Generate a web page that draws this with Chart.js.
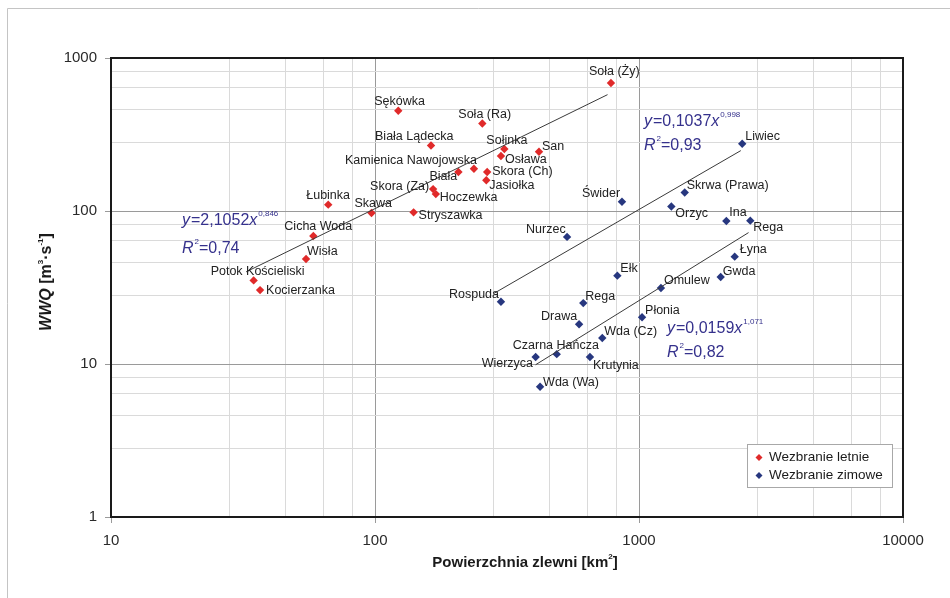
<!DOCTYPE html>
<html>
<head>
<meta charset="utf-8">
<script src="https://cdn.jsdelivr.net/npm/chart.js@4/dist/chart.umd.min.js"></script>
<style>
  html, body { margin: 0; padding: 0; background: #ffffff; }
  #wrap { width: 950px; height: 598px; }
</style>
</head>
<body>
<div id="wrap"><canvas id="c" width="950" height="598"></canvas></div>
<script>
// Summer floods: catchment area [km²] and WWQ [m³/s]
const summerNames = ['Sękówka', 'Soła (Ra)', 'Biała Lądecka', 'Sołinka', 'San', 'Osława',
  'Kamienica Nawojowska', 'Biała', 'Skora (Ch)', 'Jasiołka', 'Skora (Za)', 'Hoczewka',
  'Łubinka', 'Skawa', 'Stryszawka', 'Cicha Woda', 'Wisła', 'Potok Kościeliski',
  'Kocierzanka', 'Soła (Ży)'];
const summerArea = [122.5, 255, 163, 309, 418, 300, 237, 207, 266, 264, 166, 170,
  66.5, 97, 140, 58.4, 54.8, 34.7, 36.7, 783];
const summerWWQ = [452, 373, 268, 254, 244, 229, 189, 180, 180, 159, 139, 129,
  110, 97, 98, 68.7, 48.6, 35.2, 30.4, 686];

// Winter floods
const winterNames = ['Liwiec', 'Skrwa (Prawa)', 'Świder', 'Orzyc', 'Ina', 'Rega', 'Nurzec',
  'Łyna', 'Gwda', 'Ełk', 'Omulew', 'Rospuda', 'Rega', 'Płonia', 'Drawa', 'Wda (Cz)',
  'Wierzyca', 'Czarna Hańcza', 'Krutynia', 'Wda (Wa)'];
const winterArea = [2460, 1490, 862, 1326, 2142, 2640, 534, 2304, 2039, 828, 1211, 300,
  615, 1027, 593, 726, 406, 488, 652, 422];
const winterWWQ = [275, 132, 115, 107, 86, 86.5, 67.7, 50.3, 37, 37.8, 31.4, 25.5,
  25, 20.2, 18.2, 14.8, 11.1, 11.6, 11.1, 7.1];

// Power-law trend lines y = a·x^b with their area span and R²
const trendA = [2.1052, 0.1037, 0.0159];
const trendB = [0.846, 0.998, 1.071];
const trendR2 = ['0,74', '0,93', '0,82'];
const trendFrom = [32.5, 280, 406];
const trendTo = [760, 2430, 2600];

// Axis ticks
const xTickLabels = [10, 100, 1000, 10000];
const yTickLabels = [1, 10, 100, 1000];
const xMinorTicks = [28, 46, 64, 82, 280, 460, 640, 820, 2800, 4600, 6400, 8200];
const yMinorTicks = [2.8, 4.6, 6.4, 8.2, 28, 46, 64, 82, 280, 460, 640, 820];

// Text layout (label offsets from each marker, equation anchors)
const summerLabelOffsets = [[-24,-9],[-24,-9],[-56,-9],[-18,-9],[3,-5],[4,4],[-129,-8],[-29,5],
  [5,0],[3,5],[-63,-3],[4,3],[-22,-9],[-17,-9],[5,3],[-29,-9],[1,-7],[-43,-9],[6,0],[-22,-11]];
const winterLabelOffsets = [[3,-7],[2,-7],[-40,-8],[4,7],[3,-8],[3,7],[-41,-7],[5,-7],[2,-6],
  [3,-7],[3,-7],[-52,-7],[2,-7],[3,-7],[-38,-8],[2,-6],[-54,6],[-44,-9],[3,8],[3,-4]];
const equationAnchors = [[182, 221, 249], [644, 122, 146], [667, 329, 353]];

const RED = '#e02a2a';
const BLUE = '#27377f';
const EQ_COLOR = '#35318c';
const FONT = '"Liberation Sans", Arial, sans-serif';

function pts(xs, ys) { return xs.map((x, i) => ({ x: x, y: ys[i] })); }
function trendPoints(i) {
  return [trendFrom[i], trendTo[i]].map(x => ({ x: x, y: trendA[i] * Math.pow(x, trendB[i]) }));
}
const fmt = v => v.toFixed(3).replace('.', ',');

const majorX = new Set(xTickLabels), majorY = new Set(yTickLabels);

function drawRich(ctx, x, y, parts) {
  let cx = x;
  parts.forEach(p => {
    const size = p.sup ? 8 : 16;
    ctx.font = (p.italic ? 'italic ' : '') + size + 'px ' + FONT;
    ctx.textBaseline = 'middle';
    ctx.textAlign = 'left';
    ctx.fillText(p.t, cx, p.sup ? y - 7 : y);
    cx += ctx.measureText(p.t).width + (p.italic ? 1 : 0);
  });
}

const decorPlugin = {
  id: 'decor',
  beforeDraw(chart) {
    const ctx = chart.ctx;
    ctx.save();
    ctx.fillStyle = '#ffffff';
    ctx.fillRect(0, 0, chart.width, chart.height);
    ctx.strokeStyle = '#c4c4c4';
    ctx.lineWidth = 1;
    ctx.beginPath();
    ctx.moveTo(7.5, 598); ctx.lineTo(7.5, 8.5); ctx.lineTo(950, 8.5);
    ctx.stroke();
    ctx.restore();
  },
  afterDatasetsDraw(chart) {
    const ctx = chart.ctx;
    const xs = chart.scales.x, ys = chart.scales.y;
    const a = chart.chartArea;
    ctx.save();
    // Point labels
    ctx.fillStyle = '#222222';
    ctx.font = '12.5px ' + FONT;
    ctx.textAlign = 'left';
    ctx.textBaseline = 'middle';
    summerNames.forEach((n, i) => {
      const px = xs.getPixelForValue(summerArea[i]), py = ys.getPixelForValue(summerWWQ[i]);
      ctx.fillText(n, px + summerLabelOffsets[i][0], py + summerLabelOffsets[i][1]);
    });
    winterNames.forEach((n, i) => {
      const px = xs.getPixelForValue(winterArea[i]), py = ys.getPixelForValue(winterWWQ[i]);
      ctx.fillText(n, px + winterLabelOffsets[i][0], py + winterLabelOffsets[i][1]);
    });

    // Trend equations
    ctx.fillStyle = EQ_COLOR;
    equationAnchors.forEach((an, i) => {
      drawRich(ctx, an[0], an[1], [
        { t: 'y', italic: true }, { t: '=' + trendA[i].toFixed(4).replace('.', ',') },
        { t: 'x', italic: true }, { t: fmt(trendB[i]), sup: true }]);
      drawRich(ctx, an[0], an[2], [
        { t: 'R', italic: true }, { t: '2', sup: true }, { t: '=' + trendR2[i] }]);
    });

    // Plot frame
    ctx.strokeStyle = '#1a1a1a';
    ctx.lineWidth = 2;
    ctx.strokeRect(a.left, a.top, a.right - a.left, a.bottom - a.top);

    // Legend
    const lx = 747.5, ly = 444.5, lw = 145, lh = 43;
    ctx.fillStyle = '#ffffff';
    ctx.fillRect(lx, ly, lw, lh);
    ctx.strokeStyle = '#a8a8a8';
    ctx.lineWidth = 1;
    ctx.strokeRect(lx, ly, lw, lh);
    [[RED, 'Wezbranie letnie', 457.5], [BLUE, 'Wezbranie zimowe', 475.5]].forEach(item => {
      ctx.fillStyle = item[0];
      ctx.beginPath();
      ctx.moveTo(759, item[2] - 3.5); ctx.lineTo(762.5, item[2]);
      ctx.lineTo(759, item[2] + 3.5); ctx.lineTo(755.5, item[2]);
      ctx.closePath(); ctx.fill();
      ctx.fillStyle = '#1a1a1a';
      ctx.font = '13.5px ' + FONT;
      ctx.textBaseline = 'middle';
      ctx.fillText(item[1], 769, item[2]);
    });

    // Axis titles
    ctx.fillStyle = '#1a1a1a';
    ctx.textBaseline = 'middle';
    ctx.font = 'bold 15px ' + FONT;
    const t1 = 'Powierzchnia zlewni [km', t2 = ']';
    ctx.font = 'bold 15px ' + FONT;
    const w1 = ctx.measureText(t1).width;
    ctx.font = 'bold 8px ' + FONT;
    const wsup = ctx.measureText('2').width;
    ctx.font = 'bold 15px ' + FONT;
    const w2 = ctx.measureText(t2).width;
    let sx = 525 - (w1 + wsup + w2) / 2;
    ctx.textAlign = 'left';
    ctx.fillText(t1, sx, 563);
    ctx.font = 'bold 8px ' + FONT;
    ctx.fillText('2', sx + w1, 557);
    ctx.font = 'bold 15px ' + FONT;
    ctx.fillText(t2, sx + w1 + wsup, 563);

    ctx.translate(47, 282);
    ctx.rotate(-Math.PI / 2);
    const segs = [
      ['italic bold 16px ', 'WWQ', 0], ['bold 16px ', ' [m', 0], ['bold 8px ', '3', -6],
      ['bold 16px ', '·s', 0], ['bold 8px ', '-1', -6], ['bold 16px ', ']', 0]];
    let tw = 0;
    segs.forEach(s => { ctx.font = s[0] + FONT; tw += ctx.measureText(s[1]).width; });
    let cx = -tw / 2;
    segs.forEach(s => {
      ctx.font = s[0] + FONT;
      ctx.fillText(s[1], cx, s[2]);
      cx += ctx.measureText(s[1]).width;
    });
    ctx.restore();
  }
};

const lineStyle = { showLine: true, pointRadius: 0, borderColor: '#3a3a3a', borderWidth: 1, fill: false };

new Chart(document.getElementById('c'), {
  type: 'scatter',
  data: {
    datasets: [
      Object.assign({ label: 'trend letnie', data: trendPoints(0) }, lineStyle),
      Object.assign({ label: 'trend zimowe 1', data: trendPoints(1) }, lineStyle),
      Object.assign({ label: 'trend zimowe 2', data: trendPoints(2) }, lineStyle),
      { label: 'Wezbranie letnie', data: pts(summerArea, summerWWQ), pointStyle: 'rectRot',
        pointRadius: 4.2, backgroundColor: RED, borderColor: RED, borderWidth: 0 },
      { label: 'Wezbranie zimowe', data: pts(winterArea, winterWWQ), pointStyle: 'rectRot',
        pointRadius: 4.2, backgroundColor: BLUE, borderColor: BLUE, borderWidth: 0 }
    ]
  },
  options: {
    responsive: false,
    animation: false,
    devicePixelRatio: 1,
    layout: { padding: { top: 58, right: 47, left: 0, bottom: 0 } },
    plugins: { legend: { display: false }, tooltip: { enabled: false } },
    scales: {
      x: {
        type: 'logarithmic', min: 10, max: 10000,
        afterBuildTicks: s => { s.ticks = xTickLabels.concat(xMinorTicks).sort((p, q) => p - q).map(v => ({ value: v })); },
        afterFit: s => { s.height = 81; },
        border: { display: false },
        grid: {
          color: c => (c.tick && majorX.has(c.tick.value)) ? '#9a9a9a' : '#dadada',
          tickColor: c => (c.tick && majorX.has(c.tick.value)) ? '#9a9a9a' : 'rgba(0,0,0,0)',
          tickLength: 6, lineWidth: 1
        },
        ticks: {
          autoSkip: false, maxRotation: 0, padding: 9, color: '#2a2a2a',
          font: { family: FONT, size: 15 },
          callback: v => majorX.has(v) ? String(v) : ''
        }
      },
      y: {
        type: 'logarithmic', min: 1, max: 1000,
        afterBuildTicks: s => { s.ticks = yTickLabels.concat(yMinorTicks).sort((p, q) => p - q).map(v => ({ value: v })); },
        afterFit: s => { s.width = 111; },
        border: { display: false },
        grid: {
          color: c => (c.tick && majorY.has(c.tick.value)) ? '#9a9a9a' : '#dadada',
          tickColor: c => (c.tick && majorY.has(c.tick.value)) ? '#9a9a9a' : 'rgba(0,0,0,0)',
          tickLength: 6, lineWidth: 1
        },
        ticks: {
          autoSkip: false, padding: 8, color: '#2a2a2a',
          font: { family: FONT, size: 15 },
          callback: v => majorY.has(v) ? String(v) : ''
        }
      }
    }
  },
  plugins: [decorPlugin]
});
</script>
</body>
</html>
